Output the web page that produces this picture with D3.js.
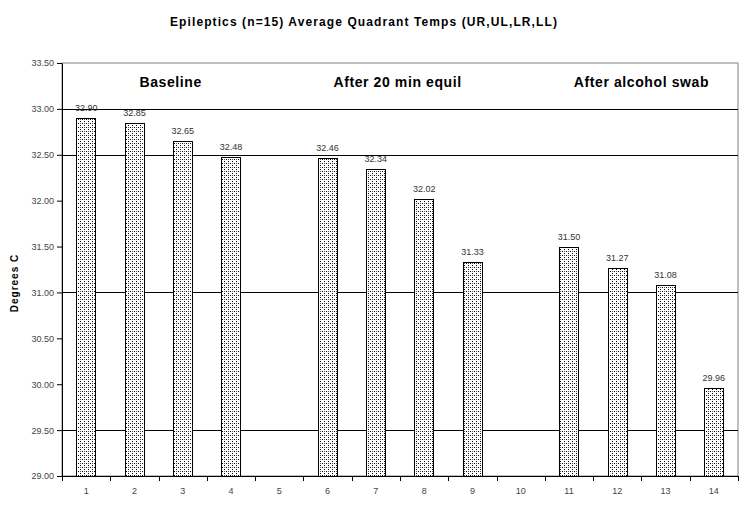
<!DOCTYPE html>
<meta charset="utf-8">
<script src="https://d3js.org/d3.v7.min.js"></script>
<style>
  body { margin: 0; background: #fff; }
  text { font-family: Arial, "Liberation Sans", sans-serif; }
</style>
<svg id="chart" width="750" height="506"></svg>
<script>

// chart values
var categories = ["1","2","3","4","5","6","7","8","9","10","11","12","13","14"];
var temps = [32.90, 32.85, 32.65, 32.48, null, 32.46, 32.34, 32.02, 31.33, null, 31.50, 31.27, 31.08, 29.96];
var yTicks = [29.00, 29.50, 30.00, 30.50, 31.00, 31.50, 32.00, 32.50, 33.00, 33.50];
var gridValues = [33.00, 32.50, 31.00, 29.50];
var phaseLabels = ["Baseline", "After 20 min equil", "After alcohol swab"];
var phasePos = [2.75, 7.45, 12.5];   // in category units

var margin = {top: 63, right: 12, bottom: 30, left: 62};
var width = 750 - margin.left - margin.right,
    height = 506 - margin.top - margin.bottom;

var svg = d3.select("#chart");

// dotted fill like the original
var defs = svg.append("defs");
var pat = defs.append("pattern")
  .attr("id", "dots")
  .attr("patternUnits", "userSpaceOnUse")
  .attr("width", 4).attr("height", 4);
pat.append("rect").attr("width", 4).attr("height", 4).attr("fill", "#fff");
pat.append("rect").attr("x", 0).attr("y", 0).attr("width", 1).attr("height", 1).attr("fill", "#000");
pat.append("rect").attr("x", 2).attr("y", 2).attr("width", 1).attr("height", 1).attr("fill", "#000");
pat.append("rect").attr("x", 2).attr("y", 0).attr("width", 1).attr("height", 1).attr("fill", "#555");

var g = svg.append("g")
  .attr("transform", "translate(" + margin.left + "," + margin.top + ")");

var x = d3.scaleBand()
  .domain(categories)
  .range([0, width])
  .paddingInner(0.6)
  .paddingOuter(0.3);

// continuous version of the category axis, for the phase captions
var xPos = d3.scaleLinear()
  .domain([0.5, categories.length + 0.5])
  .range([0, width]);

var y = d3.scaleLinear()
  .domain([29, 33.5])
  .range([height, 0]);

// title
svg.append("text")
  .attr("x", 364).attr("y", 26)
  .attr("text-anchor", "middle")
  .style("font-size", "12px").style("font-weight", "bold")
  .style("letter-spacing", "1.1px")
  .text("Epileptics (n=15) Average Quadrant Temps (UR,UL,LR,LL)");

// plot border (grey)
g.append("rect")
  .attr("width", width).attr("height", height)
  .attr("fill", "none").attr("stroke", "#808080");

// gridlines
g.selectAll(".grid")
  .data(gridValues)
  .enter().append("line")
    .attr("x1", 0).attr("x2", width)
    .attr("y1", function(d) { return Math.round(y(d)) + 0.5; })
    .attr("y2", function(d) { return Math.round(y(d)) + 0.5; })
    .attr("stroke", "#000");

var barData = temps.map(function(v, i) { return {cat: categories[i], value: v}; })
  .filter(function(d) { return d.value !== null; });

// bars
g.selectAll(".bar")
  .data(barData)
  .enter().append("rect")
    .attr("x", function(d) { return Math.round(x(d.cat)) + 0.5; })
    .attr("y", function(d) { return Math.round(y(d.value)) + 0.5; })
    .attr("width", Math.round(x.bandwidth()))
    .attr("height", function(d) { return height - Math.round(y(d.value)); })
    .attr("fill", "url(#dots)")
    .attr("stroke", "#000");

// value labels
g.selectAll(".lbl")
  .data(barData)
  .enter().append("text")
    .attr("x", function(d) { return x(d.cat) + x.bandwidth() / 2; })
    .attr("y", function(d) { return y(d.value) - 7; })
    .attr("text-anchor", "middle")
    .style("font-size", "9px").style("fill", "#333")
    .text(function(d) { return d.value.toFixed(2); });

// phase labels
g.selectAll(".phase")
  .data(phaseLabels)
  .enter().append("text")
    .attr("x", function(d, i) { return xPos(phasePos[i]); })
    .attr("y", 24)
    .attr("text-anchor", "middle")
    .style("font-size", "14px").style("font-weight", "bold")
    .style("letter-spacing", "0.6px")
    .text(function(d) { return d; });

// y axis
var yAxis = g.append("g")
  .call(d3.axisLeft(y).tickValues(yTicks).tickSize(5).tickSizeOuter(0)
    .tickFormat(d3.format(".2f")));
yAxis.select(".domain").attr("stroke", "#000");
yAxis.selectAll("text").style("font-size", "9px").style("fill", "#444")
  .style("font-family", "Arial, 'Liberation Sans', sans-serif");

// x axis
var xAxis = g.append("g")
  .attr("transform", "translate(0," + height + ")")
  .call(d3.axisBottom(x).tickSize(0).tickPadding(12));
xAxis.select(".domain").attr("stroke", "#000");
xAxis.selectAll("text").style("font-size", "9px").style("fill", "#444")
  .style("font-family", "Arial, 'Liberation Sans', sans-serif");

// category boundary ticks
xAxis.selectAll(".bound")
  .data(d3.range(categories.length + 1))
  .enter().append("line")
    .attr("x1", function(i) { return Math.round(xPos(i + 0.5)) + 0.5; })
    .attr("x2", function(i) { return Math.round(xPos(i + 0.5)) + 0.5; })
    .attr("y1", 0).attr("y2", 5)
    .attr("stroke", "#000");

// y axis title
svg.append("text")
  .attr("transform", "translate(18,283) rotate(-90)")
  .attr("text-anchor", "middle")
  .style("font-size", "10px").style("font-weight", "bold")
  .style("letter-spacing", "1px")
  .text("Degrees C");

</script>
